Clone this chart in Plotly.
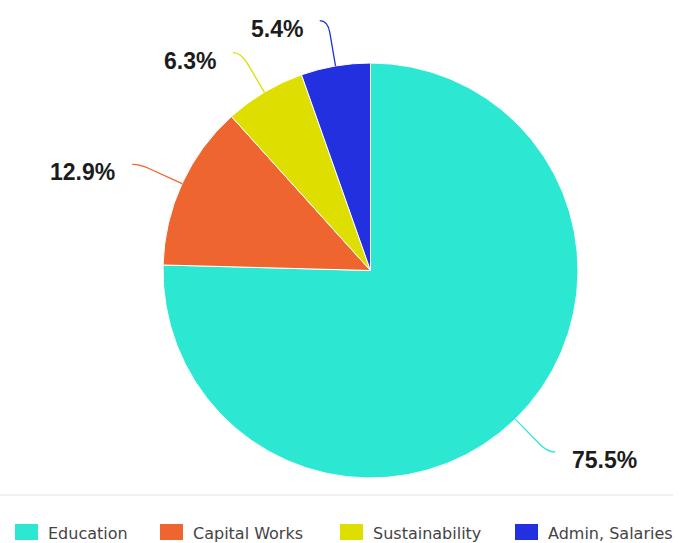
import math
import plotly.graph_objects as go

# ---- data ----
categories = ["Education", "Capital Works", "Sustainability", "Admin, Salaries"]
values = [75.5, 12.9, 6.3, 5.4]
colors = ["#2ce8d3", "#ef6530", "#dede00", "#2230e0"]

# ---- layout constants (pixels) ----
W, H = 688, 543
CX, CY, R = 370.5, 270.5, 207.5
CONN = 46           # connector length beyond the edge
HOOK = 8            # horizontal hook of connector
LEGEND_X = [15, 160, 340, 515]
LEGEND_Y = 532


def px(x):
    return x / W


def py(y):
    return 1 - y / H


fig = go.Figure()
fig.add_trace(go.Pie(
    labels=categories,
    values=values,
    marker=dict(colors=colors, line=dict(color="white", width=1)),
    sort=False,
    direction="clockwise",
    rotation=0,
    textinfo="none",
    hoverinfo="label+value",
    showlegend=False,
    domain=dict(x=[(CX - R) / W, (CX + R) / W],
                y=[(H - CY - R) / H, (H - CY + R) / H]),
))

shapes = []
annotations = []
total = sum(values)
cum = 0.0
for cat, v, c in zip(categories, values, colors):
    mid = (cum + v / 2) / total * 2 * math.pi
    cum += v
    s, co = math.sin(mid), math.cos(mid)
    sign = 1 if s >= 0 else -1
    x0, y0 = CX + R * s, CY - R * co
    x1, y1 = CX + (R + CONN - 12) * s, CY - (R + CONN - 12) * co
    xc, yc = CX + (R + CONN) * s, CY - (R + CONN) * co
    xe, ye = xc + sign * HOOK, yc
    path = (f"M {px(x0)},{py(y0)} L {px(x1)},{py(y1)} "
            f"Q {px(xc)},{py(yc)} {px(xe)},{py(ye)}")
    shapes.append(dict(type="path", path=path, xref="paper", yref="paper",
                       line=dict(color=c, width=1.3)))
    annotations.append(dict(
        x=px(xe + sign * 15), y=py(ye + 8), xref="paper", yref="paper",
        text=f"<b>{v:.1f}%</b>", showarrow=False,
        xanchor="left" if sign > 0 else "right", yanchor="middle",
        font=dict(family="Liberation Sans, Arial, sans-serif", size=23, color="#1c1c1c"),
    ))

# separator line above legend
shapes.append(dict(type="line", xref="paper", yref="paper",
                   x0=0, x1=px(673), y0=py(495), y1=py(495),
                   line=dict(color="#f1f1f1", width=2)))

# legend
for lx, cat, c in zip(LEGEND_X, categories, colors):
    shapes.append(dict(type="rect", xref="paper", yref="paper",
                       x0=px(lx), x1=px(lx + 23), y0=py(LEGEND_Y - 8), y1=py(LEGEND_Y + 8),
                       fillcolor=c, line=dict(width=0)))
    annotations.append(dict(
        x=px(lx + 31), y=py(LEGEND_Y + 1), xref="paper", yref="paper",
        text=cat, showarrow=False, xanchor="left", yanchor="middle",
        font=dict(family="DejaVu Sans, sans-serif", size=16, color="#444444"),
    ))

fig.update_layout(
    width=W, height=H,
    margin=dict(l=0, r=0, t=0, b=0),
    paper_bgcolor="white",
    plot_bgcolor="white",
    shapes=shapes,
    annotations=annotations,
)

fig.write_html("out.html",
               config={"displayModeBar": False},
               post_script="document.body.style.margin='0';document.body.style.overflow='hidden';")
